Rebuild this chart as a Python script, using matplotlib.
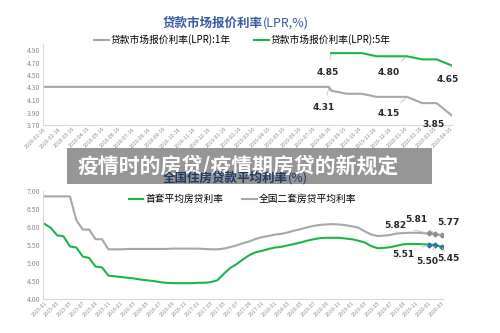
import matplotlib
matplotlib.use('Agg')
import matplotlib.pyplot as plt
from matplotlib.patches import Rectangle
import pandas as pd

plt.rcParams['font.family'] = ['Noto Sans CJK SC', 'DejaVu Sans']

GRAY = '#a3a7ae'
GREEN = '#1db54b'
TICK = '#8c8c8c'
SPINE = '#d9d9d9'

# --- 贷款市场报价利率(LPR) ---
lpr1y_dates = ['2018-01-16', '2018-02-16', '2018-03-16', '2018-04-16', '2018-05-16',
               '2018-06-16', '2018-07-16', '2018-08-16', '2018-09-16', '2018-10-16',
               '2018-11-16', '2018-12-16', '2019-01-16', '2019-02-16', '2019-03-16',
               '2019-04-16', '2019-05-16', '2019-06-16', '2019-07-16', '2019-08-16',
               '2019-08-20', '2019-09-20', '2019-10-21', '2019-11-20', '2019-12-20',
               '2020-01-20', '2020-02-20', '2020-03-20', '2020-04-20']
lpr1y = [4.31, 4.31, 4.31, 4.31, 4.31, 4.31, 4.31, 4.31, 4.31, 4.31,
         4.31, 4.31, 4.31, 4.31, 4.31, 4.31, 4.31, 4.31, 4.31, 4.31,
         4.25, 4.20, 4.20, 4.15, 4.15, 4.15, 4.05, 4.05, 3.85]
lpr5y_dates = ['2019-08-20', '2019-09-20', '2019-10-21', '2019-11-20', '2019-12-20',
               '2020-01-20', '2020-02-20', '2020-03-20', '2020-04-20']
lpr5y = [4.85, 4.85, 4.85, 4.80, 4.80, 4.80, 4.75, 4.75, 4.65]
lpr_ticks = ['2018-01-16', '2018-02-16', '2018-03-16', '2018-04-16', '2018-05-16',
             '2018-06-16', '2018-07-16', '2018-08-16', '2018-09-16', '2018-10-16',
             '2018-11-16', '2018-12-16', '2019-01-16', '2019-02-16', '2019-03-16',
             '2019-04-16', '2019-05-16', '2019-06-16', '2019-07-16', '2019-08-16',
             '2019-09-16', '2019-10-16', '2019-11-16', '2019-12-16', '2020-01-16',
             '2020-02-16', '2020-03-16', '2020-04-16']

# --- 全国住房贷款平均利率 (2015-01 .. 2020-03, monthly) ---
months = list(pd.period_range('2015-01', '2020-03', freq='M').strftime('%Y-%m'))
first_home = [6.09, 5.98, 5.77, 5.74, 5.46, 5.43, 5.18, 5.14, 4.90, 4.88,
              4.65, 4.63, 4.61, 4.59, 4.57, 4.54, 4.52, 4.50, 4.47, 4.45,
              4.44, 4.44, 4.44, 4.44, 4.45, 4.45, 4.47, 4.52, 4.70, 4.86,
              4.97, 5.10, 5.22, 5.30, 5.34, 5.39, 5.43, 5.45, 5.49, 5.53,
              5.57, 5.62, 5.66, 5.69, 5.70, 5.70, 5.70, 5.68, 5.66, 5.62,
              5.57, 5.47, 5.41, 5.42, 5.44, 5.48, 5.52, 5.53, 5.53, 5.52,
              5.51, 5.50, 5.45]
second_home = [6.85, 6.85, 6.85, 6.85, 6.85, 6.19, 5.93, 5.93, 5.66, 5.66,
               5.38, 5.38, 5.38, 5.39, 5.39, 5.39, 5.39, 5.39, 5.39, 5.39,
               5.40, 5.40, 5.40, 5.40, 5.40, 5.39, 5.38, 5.38, 5.40, 5.44,
               5.49, 5.55, 5.60, 5.67, 5.72, 5.75, 5.79, 5.81, 5.85, 5.90,
               5.94, 5.99, 6.03, 6.06, 6.07, 6.08, 6.07, 6.05, 6.02, 5.98,
               5.88, 5.79, 5.75, 5.76, 5.78, 5.82, 5.83, 5.84, 5.84, 5.83,
               5.82, 5.81, 5.77]

fig = plt.figure(figsize=(5, 3.33), dpi=100)


def style_axes(ax):
    for s in ['top', 'right']:
        ax.spines[s].set_visible(False)
    for s in ['left', 'bottom']:
        ax.spines[s].set_color(SPINE)
        ax.spines[s].set_linewidth(0.8)
    ax.tick_params(length=0, colors=TICK, labelsize=5, pad=2)
    ax.tick_params(axis='x', labelsize=3.8, pad=1)


def label(ax, x, y, dx, dy, text):
    ax.annotate(text, xy=(x, y), xytext=(dx, dy), textcoords='offset pixels',
                ha='center', va='center', fontsize=6.5, fontweight='bold',
                family='DejaVu Sans', color='#262626', annotation_clip=False,
                arrowprops=dict(arrowstyle='-', color='#bfbfbf', lw=0.6,
                                shrinkA=4, shrinkB=1))


# ---------------- top chart ----------------
ax1 = fig.add_axes([43 / 500, 1 - 125 / 333, 409 / 500, 81.25 / 333])
d1 = pd.to_datetime(lpr1y_dates)
d5 = pd.to_datetime(lpr5y_dates)
l1, = ax1.plot(d1, lpr1y, color=GRAY, lw=1.5, label='贷款市场报价利率(LPR):1年')
l5, = ax1.plot(d5, lpr5y, color=GREEN, lw=1.5, label='贷款市场报价利率(LPR):5年')
ax1.set_ylim(3.70, 5.00)
ax1.set_yticks([3.70, 3.90, 4.10, 4.30, 4.50, 4.70, 4.90])
ax1.yaxis.set_major_formatter(matplotlib.ticker.FormatStrFormatter('%.2f'))
ax1.set_xlim(pd.Timestamp('2018-01-16'), pd.Timestamp('2020-04-20'))
tick_dates = pd.to_datetime(lpr_ticks)
ax1.set_xticks(tick_dates)
ax1.set_xticklabels(lpr_ticks, rotation=45, ha='right', rotation_mode='anchor')
style_axes(ax1)

label(ax1, d1[19], lpr1y[19], -5, -21, '%.2f' % lpr1y[19])
label(ax1, d5[0], lpr5y[0], -3, -19, '%.2f' % lpr5y[0])
label(ax1, d5[5], lpr5y[5], -18, -16, '%.2f' % lpr5y[5])
label(ax1, d1[25], lpr1y[25], -18, -17, '%.2f' % lpr1y[25])
label(ax1, d5[8], lpr5y[8], -4, -14, '%.2f' % lpr5y[8])
label(ax1, d1[28], lpr1y[28], -19, -9, '%.2f' % lpr1y[28])

fig.text(263 / 500, 1 - 23 / 333, '贷款市场报价利率', ha='right', va='center',
         fontsize=9, fontweight='bold', color='#3a5ba0')
fig.text(263 / 500, 1 - 23 / 333, '(LPR,%)', ha='left', va='center',
         fontsize=9, color='#3a5ba0')
fig.legend(handles=[l1, l5], loc='center', bbox_to_anchor=(0.485, 1 - 40 / 333),
           ncol=2, frameon=False, fontsize=7, handlelength=1.5,
           handletextpad=0.2, columnspacing=2.4, borderpad=0)

# ---------------- bottom chart ----------------
ax2 = fig.add_axes([43 / 500, 1 - 299 / 333, 400 / 500, 108 / 333])
xs = list(range(len(months)))
g1, = ax2.plot(xs, first_home, color=GREEN, lw=1.5, label='首套平均房贷利率')
g2, = ax2.plot(xs, second_home, color=GRAY, lw=1.5, label='全国二套房贷平均利率')
ax2.plot(xs[-3:], second_home[-3:], ls='none', marker='D', ms=2.5, color='#8a8d93')
ax2.plot(xs[-3:], first_home[-3:], ls='none', marker='D', ms=2.5, color='#2b78a0')
ax2.set_ylim(4.0, 7.0)
ax2.set_yticks([4.0, 4.5, 5.0, 5.5, 6.0, 6.5, 7.0])
ax2.yaxis.set_major_formatter(matplotlib.ticker.FormatStrFormatter('%.2f'))
ax2.set_xlim(-0.2, 62.2)
ax2.set_xticks(xs[::2])
ax2.set_xticklabels(months[::2], rotation=45, ha='right', rotation_mode='anchor')
style_axes(ax2)

label(ax2, xs[60], second_home[60], -34, 8, '%.2f' % second_home[60])
label(ax2, xs[61], second_home[61], -19, 14, '%.2f' % second_home[61])
label(ax2, xs[62], second_home[62], 7, 13, '%.2f' % second_home[62])
label(ax2, xs[60], first_home[60], -26, -10, '%.2f' % first_home[60])
label(ax2, xs[61], first_home[61], -8, -17, '%.2f' % first_home[61])
label(ax2, xs[62], first_home[62], 7, -12, '%.2f' % first_home[62])

# ---------------- banner overlay ----------------
fig.patches.append(Rectangle((67 / 500, 1 - 184 / 333), 365 / 500, 36 / 333,
                             transform=fig.transFigure, facecolor='#6e6e6e',
                             alpha=0.72, edgecolor='none', zorder=10))
fig.text(78 / 500, 1 - 166 / 333, '疫情时的房贷/疫情期房贷的新规定', ha='left',
         va='center', fontsize=15, fontweight='bold', color='white', zorder=11)

# bottom chart title sits over the banner in the reference
fig.text(288 / 500, 1 - 178 / 333, '全国住房贷款平均利率', ha='right', va='center',
         fontsize=9, fontweight='bold', color='#1f3864', zorder=12)
fig.text(288 / 500, 1 - 178 / 333, '(%)', ha='left', va='center',
         fontsize=9, color='#1f3864', zorder=12)
fig.legend(handles=[g1, g2], loc='center', bbox_to_anchor=(0.485, 1 - 199 / 333),
           ncol=2, frameon=False, fontsize=7, handlelength=1.5,
           handletextpad=0.2, columnspacing=2.0, borderpad=0)

fig.savefig('out.png', dpi=100)
